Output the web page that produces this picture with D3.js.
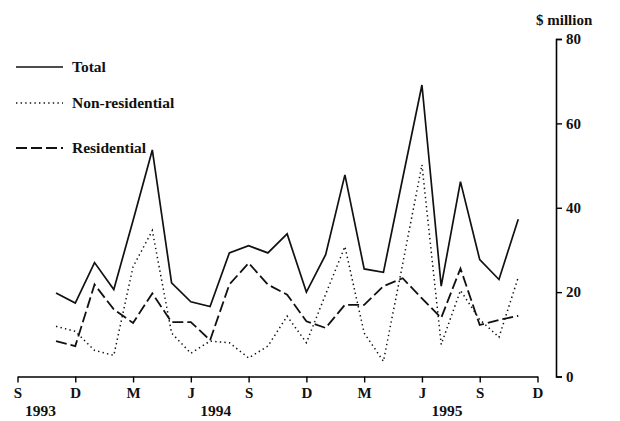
<!DOCTYPE html>
<html>
<head>
<meta charset="utf-8">
<script src="https://cdn.jsdelivr.net/npm/d3@7"></script>
<style>
  body { margin: 0; background: #fff; }
  svg text { font-family: "Liberation Serif", "Times New Roman", serif; font-weight: bold; fill: #111; }
</style>
</head>
<body>
<div id="chart"></div>
<script>
// months counted from Sep 1993 (index 0); data runs Nov 1993 .. Nov 1995
const firstMonth = 2;
const total = [19.8, 17.4, 27.0, 20.6, 37.0, 53.7, 22.2, 17.7, 16.6, 29.3, 31.0, 29.3, 33.8,
               20.0, 28.9, 47.8, 25.5, 24.7, 47.0, 69.1, 21.4, 46.2, 27.7, 23.0, 37.3];
const nonResidential = [11.9, 10.7, 6.2, 5.0, 26.0, 34.6, 10.3, 5.5, 8.4, 8.0, 4.4, 7.2, 14.3,
                        8.0, 19.5, 30.8, 10.3, 3.6, 26.7, 50.2, 7.6, 20.4, 13.5, 9.3, 23.5];
const residential = [8.4, 7.2, 21.8, 15.9, 12.7, 19.7, 12.9, 12.9, 8.6, 21.8, 26.9, 21.8, 19.4,
                     13.1, 11.5, 17.0, 17.0, 21.4, 23.3, 18.5, 13.9, 25.6, 12.2, 13.4, 14.4];

const monthTicks = [0, 3, 6, 9, 12, 15, 18, 21, 24, 27];
const monthLabels = ["S", "D", "M", "J", "S", "D", "M", "J", "S", "D"];
const years = ["1993", "1994", "1995"];
const yearAt = [1.2, 10.3, 22.3];
const yTicks = [0, 20, 40, 60, 80];

const series = [
  { name: "Total", values: total, dash: null, width: 1.7 },
  { name: "Non-residential", values: nonResidential, dash: "1.4,3.2", width: 1.5 },
  { name: "Residential", values: residential, dash: "11,4", width: 1.8 }
];

const width = 620, height = 421;

const svg = d3.select("#chart").append("svg")
  .attr("width", width)
  .attr("height", height);

const x = d3.scaleLinear().domain([0, 27]).range([17.5, 537.5]);
const y = d3.scaleLinear().domain([0, 80]).range([376.5, 39]);

// x axis
const xAxis = svg.append("g")
  .attr("transform", `translate(0,${y(0)})`)
  .call(d3.axisBottom(x)
    .tickValues(monthTicks)
    .tickFormat((d, i) => monthLabels[i])
    .tickSize(6)
    .tickSizeOuter(0)
    .tickPadding(5));
xAxis.select(".domain").attr("stroke-width", 1.6);
xAxis.selectAll(".tick line").attr("stroke-width", 1.4);
xAxis.selectAll("text").attr("font-size", 15).attr("fill", "#111");

svg.append("g").selectAll("text")
  .data(years).enter()
  .append("text")
    .attr("x", (d, i) => x(yearAt[i]))
    .attr("y", 416)
    .attr("text-anchor", "middle")
    .attr("font-size", 15.5)
    .text(d => d);

// y axis on the right
const yAxis = svg.append("g")
  .attr("transform", `translate(556,0)`)
  .call(d3.axisRight(y)
    .tickValues(yTicks)
    .tickSize(6)
    .tickPadding(4));
yAxis.select(".domain").attr("stroke-width", 1.6);
yAxis.selectAll(".tick line").attr("stroke-width", 1.4);
yAxis.selectAll("text").attr("font-size", 15).attr("fill", "#111");

svg.append("text")
  .attr("x", 536)
  .attr("y", 25)
  .attr("font-size", 15)
  .text("$ million");

// lines
const line = d3.line()
  .x((d, i) => x(firstMonth + i))
  .y(d => y(d));

svg.append("g").selectAll("path")
  .data(series).enter()
  .append("path")
    .attr("d", d => line(d.values))
    .attr("fill", "none")
    .attr("stroke", "#111")
    .attr("stroke-width", d => d.width)
    .attr("stroke-dasharray", d => d.dash)
    .attr("stroke-linejoin", "miter");

// legend
const legendY = [67, 103, 148];
const legend = svg.append("g").selectAll("g")
  .data(series).enter()
  .append("g")
    .attr("transform", (d, i) => `translate(0,${legendY[i]})`);

legend.append("line")
  .attr("x1", 16).attr("x2", 63)
  .attr("stroke", "#111")
  .attr("stroke-width", d => d.width)
  .attr("stroke-dasharray", d => d.dash);

legend.append("text")
  .attr("x", 72)
  .attr("y", 5)
  .attr("font-size", 15.5)
  .text(d => d.name);
</script>
</body>
</html>
